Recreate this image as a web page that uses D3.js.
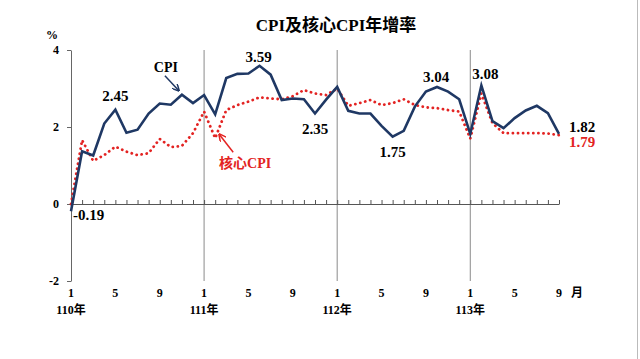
<!DOCTYPE html>
<html>
<head>
<meta charset="utf-8">
<script src="https://cdn.jsdelivr.net/npm/d3@7"></script>
<style>
  body { margin: 0; background: #fff; }
  text { font-family: "Liberation Serif", "Noto Sans CJK TC", serif; font-weight: bold; }
</style>
</head>
<body>
<div id="my_dataviz"></div>
<script>
// data: monthly yoy growth, 110/1 .. 113/9
var months = d3.range(1, 46)
var cpi = [
    -0.19, 1.37, 1.26, 2.09, 2.45, 1.85, 1.93, 2.35, 2.61, 2.58, 2.84, 2.62,
    2.83, 2.33, 3.27, 3.38, 3.39, 3.59, 3.36, 2.70, 2.74, 2.72, 2.35, 2.71,
    3.04, 2.42, 2.35, 2.35, 2.03, 1.75, 1.90, 2.53, 2.92, 3.04, 2.92, 2.72,
    1.82, 3.08, 2.15, 1.97, 2.23, 2.43, 2.55, 2.36, 1.82
]
var core = [
    0.00, 1.66, 1.12, 1.27, 1.49, 1.36, 1.27, 1.32, 1.69, 1.48, 1.51, 1.84,
    2.40, 1.71, 2.44, 2.57, 2.66, 2.77, 2.74, 2.72, 2.80, 2.96, 2.87, 2.83,
    3.00, 2.55, 2.62, 2.70, 2.57, 2.62, 2.72, 2.57, 2.51, 2.49, 2.44, 2.40,
    1.70, 2.87, 2.10, 1.84, 1.84, 1.84, 1.84, 1.83, 1.79
]
var yearLabels = ["110年", "111年", "112年", "113年"]
var monthTicks = [1, 5, 9]
var yTicks = [4, 2, 0, -2]

var width = 640
var height = 359
var navy = "#1f3864"
var red = "#e32322"

var svg = d3.select("#my_dataviz")
    .append("svg")
    .attr("width", width)
    .attr("height", height)

// scales
var x = d3.scaleLinear().domain([0, months.length - 1]).range([71, 559])
var y = d3.scaleLinear().domain([-2, 4]).range([281, 50])

// plain hyphen minus like the original
var fmt = function(v) { return v.toFixed(2) }

// right frame edge
svg.append("line").attr("x1", 637.5).attr("x2", 637.5).attr("y1", 0).attr("y2", height)
    .style("stroke", "#bbb").style("stroke-width", 1)

// title
svg.append("text").attr("x", 336).attr("y", 31).attr("text-anchor", "middle")
    .style("font-size", "17px").text("CPI及核心CPI年增率")

svg.append("text").attr("x", 46).attr("y", 39).style("font-size", "12px").text("%")

// year separators
svg.selectAll(".sep").data([12, 24, 36]).enter().append("line")
    .attr("x1", function(d) { return x(d) }).attr("x2", function(d) { return x(d) })
    .attr("y1", y(4)).attr("y2", y(-2))
    .style("stroke", "#8a8a8a").style("stroke-width", 1)

// y axis
var yAxis = svg.append("g").attr("transform", "translate(" + x(0) + ",0)")
    .call(d3.axisLeft(y).tickValues(yTicks).tickSize(4).tickSizeOuter(0).tickFormat(function(d) { return String(d) }))
yAxis.select(".domain").style("stroke", "#666")
yAxis.selectAll(".tick line").style("stroke", "#666")
yAxis.selectAll("text").style("font-size", "12px").attr("fill", "#000").attr("x", -12)

// x axis on the zero line, ticks pointing up
var xAxis = svg.append("g").attr("transform", "translate(0," + y(0) + ")")
    .call(d3.axisTop(x).tickValues(d3.range(0, months.length)).tickSize(4).tickSizeOuter(0).tickFormat(""))
xAxis.select(".domain").style("stroke", "#555")
xAxis.selectAll(".tick line").style("stroke", "#555")

// month labels at the bottom
var monthIdx = []
for (var yr = 0; yr < 4; yr++) {
    monthTicks.forEach(function(m) { monthIdx.push({ i: yr * 12 + m - 1, m: m }) })
}
svg.selectAll(".mlab").data(monthIdx).enter().append("text")
    .attr("x", function(d) { return x(d.i) }).attr("y", 297)
    .attr("text-anchor", "middle").style("font-size", "12px")
    .text(function(d) { return d.m })
svg.append("text").attr("x", x(44) + 18).attr("y", 297).attr("text-anchor", "middle")
    .style("font-size", "12px").text("月")
svg.selectAll(".ylab").data(yearLabels).enter().append("text")
    .attr("x", function(d, i) { return x(i * 12) }).attr("y", 314)
    .attr("text-anchor", "middle").style("font-size", "12px")
    .text(function(d) { return d })

// lines
var line = d3.line().x(function(d, i) { return x(i) }).y(function(d) { return y(d) })

svg.append("path").datum(core).attr("d", line)
    .style("fill", "none").style("stroke", red).style("stroke-width", 2.8)
    .style("stroke-dasharray", "0.1 5").style("stroke-linecap", "round")

svg.append("path").datum(cpi).attr("d", line)
    .style("fill", "none").style("stroke", navy).style("stroke-width", 2.6)
    .style("stroke-linejoin", "miter")

// value labels
var notes = [
    { i: 0, s: cpi, dx: 2, dy: 9, a: "start", c: "#000" },
    { i: 4, s: cpi, dx: 0, dy: -9, a: "middle", c: "#000" },
    { i: 17, s: cpi, dx: -1, dy: -4, a: "middle", c: "#000" },
    { i: 22, s: cpi, dx: 0, dy: 20, a: "middle", c: "#000" },
    { i: 29, s: cpi, dx: 0, dy: 20, a: "middle", c: "#000" },
    { i: 33, s: cpi, dx: -1, dy: -5, a: "middle", c: "#000" },
    { i: 37, s: cpi, dx: 4, dy: -6, a: "middle", c: "#000" },
    { i: 44, s: cpi, dx: 10, dy: -2, a: "start", c: "#000" },
    { i: 44, s: core, dx: 10, dy: 12, a: "start", c: red }
]
svg.selectAll(".vlab").data(notes).enter().append("text")
    .attr("x", function(d) { return x(d.i) + d.dx })
    .attr("y", function(d) { return y(d.s[d.i]) + d.dy })
    .attr("text-anchor", function(d) { return d.a })
    .style("font-size", "15px").style("fill", function(d) { return d.c })
    .text(function(d) { return fmt(d.s[d.i]) })

// arrow markers
function marker(id, color) {
    svg.append("defs").append("marker").attr("id", id)
        .attr("viewBox", "0 0 10 10").attr("refX", 9).attr("refY", 5)
        .attr("markerWidth", 5).attr("markerHeight", 5).attr("orient", "auto")
        .append("path").attr("d", "M0,0L10,5L0,10").style("fill", "none")
        .style("stroke", color).style("stroke-width", 2)
}
marker("arNavy", navy)
marker("arRed", red)

// series names with arrows
svg.append("text").attr("x", x(10) - 16).attr("y", y(cpi[10]) - 23).attr("text-anchor", "middle")
    .style("font-size", "14px").style("fill", "#000").text("CPI")
svg.append("line").attr("x1", x(10) - 17).attr("y1", y(cpi[10]) - 19)
    .attr("x2", x(10) - 3).attr("y2", y(cpi[10]) - 4)
    .style("stroke", navy).style("stroke-width", 1.5).attr("marker-end", "url(#arNavy)")

svg.append("text").attr("x", x(13) + 30).attr("y", y(core[13]) + 30).attr("text-anchor", "middle")
    .style("font-size", "14px").style("fill", red).text("核心CPI")
svg.append("line").attr("x1", x(13) + 18).attr("y1", y(core[13]) + 14)
    .attr("x2", x(13) + 4).attr("y2", y(core[13]) - 4)
    .style("stroke", red).style("stroke-width", 1.5).attr("marker-end", "url(#arRed)")
</script>
</body>
</html>
